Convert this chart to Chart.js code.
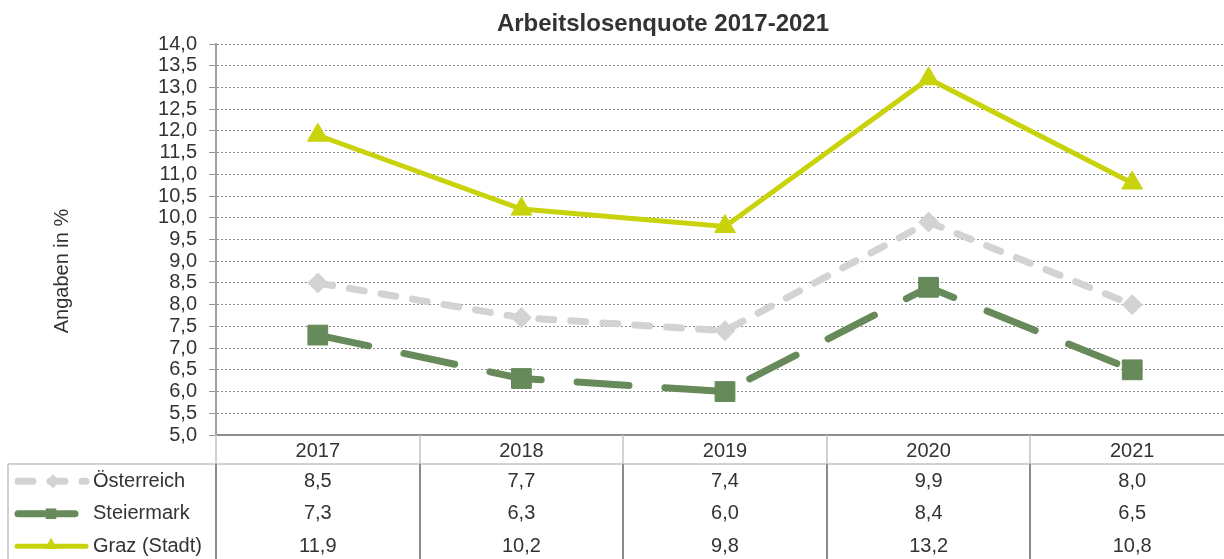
<!DOCTYPE html>
<html lang="de">
<head>
  <meta charset="UTF-8" />
  <title>Arbeitslosenquote 2017-2021</title>
  <style>
    html, body {
      margin: 0;
      padding: 0;
      background: #fff;
      overflow: hidden;
    }
    #chart { display: block; }
  </style>
</head>
<body>
  <canvas id="chart" width="1234" height="559"></canvas>

  <script src="https://cdn.jsdelivr.net/npm/chart.js@4.4.1/dist/chart.umd.min.js"></script>
  <script>
    // Data
    const years = ['2017', '2018', '2019', '2020', '2021'];
    const oesterreich = [8.5, 7.7, 7.4, 9.9, 8.0];
    const steiermark = [7.3, 6.3, 6.0, 8.4, 6.5];
    const grazStadt = [11.9, 10.2, 9.8, 13.2, 10.8];
    const seriesNames = ['Österreich', 'Steiermark', 'Graz (Stadt)'];
    const yMin = 5, yMax = 14, yStep = 0.5;

    const FONT = "'Liberation Sans', Arial, sans-serif";
    const TEXT = '#333';
    const fmt = v => v.toFixed(1).replace('.', ',');

    // draws the title, the y axis label and the data table under the plot
    const tablePlugin = {
      id: 'dataTable',
      afterDraw(chart) {
        const ctx = chart.ctx;
        const area = chart.chartArea;
        const x = chart.scales.x;
        const step = x.getPixelForValue(1) - x.getPixelForValue(0);
        const headTop = area.bottom;
        const headBottom = headTop + 29;
        const rowH = 32.5;
        const legendLeft = 8;

        ctx.save();

        // title
        ctx.fillStyle = TEXT;
        ctx.font = 'bold 24px ' + FONT;
        ctx.textAlign = 'center';
        ctx.textBaseline = 'alphabetic';
        ctx.fillText('Arbeitslosenquote 2017-2021', 663, 31);

        // y axis label
        ctx.save();
        ctx.translate(62, 271);
        ctx.rotate(-Math.PI / 2);
        ctx.font = '20px ' + FONT;
        ctx.textBaseline = 'middle';
        ctx.fillText('Angaben in %', 0, 0);
        ctx.restore();

        // grid of the table
        ctx.lineWidth = 1.5;
        ctx.strokeStyle = '#c4c4c4';
        ctx.beginPath();
        ctx.moveTo(legendLeft, headBottom);
        ctx.lineTo(chart.width, headBottom);
        ctx.moveTo(legendLeft, headBottom);
        ctx.lineTo(legendLeft, chart.height);
        for (let i = 0; i <= years.length; i++) {
          const bx = Math.round(area.left + i * step);
          ctx.moveTo(bx, headTop);
          ctx.lineTo(bx, headBottom);
        }
        ctx.stroke();

        ctx.lineWidth = 2;
        ctx.strokeStyle = '#8c8c8c';
        ctx.beginPath();
        for (let i = 0; i <= years.length; i++) {
          const bx = Math.round(area.left + i * step);
          ctx.moveTo(bx, headBottom);
          ctx.lineTo(bx, chart.height);
        }
        ctx.stroke();

        // header row
        ctx.font = '20px ' + FONT;
        ctx.fillStyle = TEXT;
        ctx.textAlign = 'center';
        ctx.textBaseline = 'middle';
        years.forEach((y, i) => {
          ctx.fillText(y, x.getPixelForValue(i), (headTop + headBottom) / 2 + 2);
        });

        // data rows with legend samples
        chart.data.datasets.forEach((ds, r) => {
          const cy = headBottom + rowH * r + rowH / 2 + 1;

          // legend sample line (the Steiermark sample is drawn solid)
          ctx.save();
          ctx.strokeStyle = ds.borderColor;
          ctx.lineWidth = ds.borderWidth;
          ctx.lineCap = 'round';
          ctx.setLineDash(r === 0 ? ds.borderDash : []);
          ctx.beginPath();
          ctx.moveTo(r === 2 ? 17 : 18, cy);
          ctx.lineTo(r === 1 ? 75 : 86, cy);
          ctx.stroke();
          ctx.restore();

          ctx.fillStyle = ds.pointBackgroundColor;
          Chart.helpers.drawPoint(ctx, {
            pointStyle: ds.pointStyle,
            radius: r === 0 ? 7 : 7.5,
            rotation: 0,
            borderWidth: 0
          }, r === 0 ? 53 : 51, r === 2 ? cy - 1 : cy);

          ctx.fillStyle = TEXT;
          ctx.textAlign = 'left';
          ctx.fillText(seriesNames[r], 93, cy);
          ctx.textAlign = 'center';
          ds.data.forEach((v, i) => {
            ctx.fillText(fmt(v), x.getPixelForValue(i), cy);
          });
        });

        ctx.restore();
      }
    };

    const ctx = document.getElementById('chart').getContext('2d');
    const chart = new Chart(ctx, {
      type: 'line',
      data: {
        labels: years,
        datasets: [
          {
            label: seriesNames[0],
            data: oesterreich,
            borderColor: '#d3d3d3',
            borderWidth: 7,
            borderDash: [15, 17],
            borderCapStyle: 'round',
            pointStyle: 'rectRot',
            pointRadius: 10,
            pointBackgroundColor: '#d3d3d3',
            pointBorderColor: '#d3d3d3',
            pointBorderWidth: 1,
            tension: 0
          },
          {
            label: seriesNames[1],
            data: steiermark,
            borderColor: '#668a5a',
            borderWidth: 7,
            borderDash: [52, 36],
            borderCapStyle: 'round',
            pointStyle: 'rect',
            pointRadius: 14,
            pointBackgroundColor: '#668a5a',
            pointBorderColor: '#668a5a',
            pointBorderWidth: 1,
            tension: 0
          },
          {
            label: seriesNames[2],
            data: grazStadt,
            borderColor: '#c9d30c',
            borderWidth: 5,
            pointStyle: 'triangle',
            pointRadius: 12,
            pointBackgroundColor: '#c9d30c',
            pointBorderColor: '#c9d30c',
            pointBorderWidth: 1,
            tension: 0
          }
        ]
      },
      options: {
        responsive: false,
        animation: false,
        layout: {
          autoPadding: false,
          padding: { top: 44, bottom: 124, left: 0, right: 0 }
        },
        plugins: {
          legend: { display: false },
          title: { display: false },
          tooltip: { enabled: false }
        },
        scales: {
          x: {
            type: 'category',
            offset: true,
            ticks: { display: false },
            grid: { display: false },
            border: { display: true, color: '#8c8c8c', width: 2 },
            afterFit: s => { s.height = 0; }
          },
          y: {
            min: yMin,
            max: yMax,
            afterFit: s => { s.width = 216; },
            ticks: {
              stepSize: yStep,
              autoSkip: false,
              padding: 12,
              color: TEXT,
              font: { family: FONT, size: 20 },
              callback: v => fmt(v)
            },
            grid: {
              color: '#8a8a8a',
              lineWidth: 1,
              tickLength: 7,
              tickColor: '#999',
              tickBorderDash: [],
              borderDash: [2, 2]
            },
            border: { display: true, color: '#a0a0a0', width: 2, dash: [2, 2] }
          }
        }
      },
      plugins: [tablePlugin]
    });
  </script>
</body>
</html>
